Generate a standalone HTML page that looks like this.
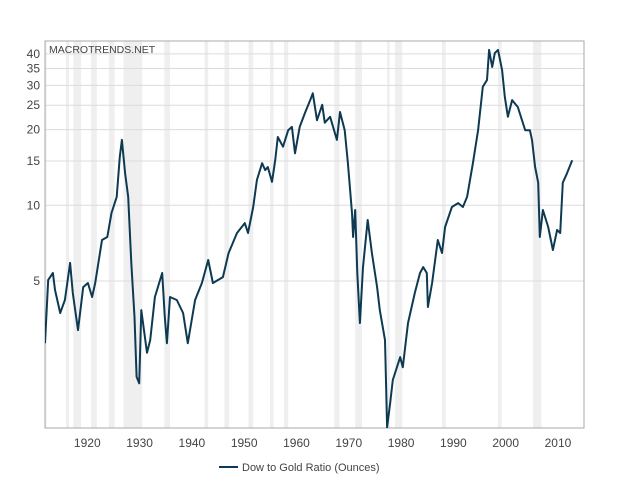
<!DOCTYPE html>
<html><head><meta charset="utf-8"><style>
body{margin:0;background:#fff;font-family:"Liberation Sans",sans-serif;}
svg text{font-family:"Liberation Sans",sans-serif;fill:#444;font-size:12px;}
</style></head><body>
<svg id="chart" width="629" height="492">
<defs><clipPath id="pc"><rect x="45" y="41" width="539" height="387"/></clipPath></defs>
<g id="bands" clip-path="url(#pc)"></g><g id="grid"></g>
<rect x="45" y="41" width="539" height="387" fill="none" stroke="#aaa"/>
<text x="49" y="53" style="font-size:10.5px">MACROTRENDS.NET</text>
<g id="yt"></g><g id="xt"></g>
<path id="line" clip-path="url(#pc)" fill="none" stroke="#0d3a52" stroke-width="2" stroke-linejoin="round"/>
<g>
<line x1="219" y1="467" x2="238" y2="467" stroke="#0d3a52" stroke-width="2"/>
<text x="242" y="471" style="font-size:11px">Dow to Gold Ratio (Ounces)</text></g>
</svg>
<script>
const years=[1914.6,1915.2,1916.1,1916.5,1917.5,1918.4,1919.4,1919.9,1920.9,1921.9,1922.8,1923.6,1924.2,1925.5,1926.5,1927.3,1928.3,1928.9,1929.3,1929.9,1930.5,1931.1,1931.7,1932.1,1932.6,1933.0,1934.1,1934.7,1935.6,1937.0,1937.5,1937.9,1938.5,1939.8,1941.0,1941.9,1943.3,1944.6,1945.8,1946.7,1948.6,1949.7,1951.3,1952.8,1953.4,1954.4,1955.1,1956.1,1956.7,1957.2,1958.0,1958.6,1959.1,1960.1,1961.1,1961.8,1962.4,1963.3,1964.3,1965.3,1965.8,1966.6,1967.6,1968.1,1969.1,1970.4,1971.0,1971.9,1972.5,1973.3,1973.5,1973.9,1974.3,1974.8,1975.4,1976.3,1977.1,1978.1,1978.6,1979.6,1980.0,1980.6,1981.1,1982.5,1983.0,1984.0,1985.3,1986.3,1986.9,1987.6,1987.8,1988.6,1989.7,1990.5,1991.1,1992.4,1993.6,1994.5,1995.3,1996.4,1997.4,1998.3,1999.1,1999.5,2000.1,2000.6,2001.2,2002.0,2002.5,2003.1,2003.9,2005.0,2006.4,2007.3,2007.7,2008.3,2008.9,2009.2,2009.8,2010.8,2011.7,2012.5,2013.1,2013.6,2014.4,2015.4];
const ratio=[2.83,5.05,5.38,4.61,3.73,4.2,5.9,4.48,3.19,4.73,4.91,4.32,4.91,7.28,7.48,9.32,10.8,15.6,18.2,13.4,10.8,5.9,3.6,2.08,1.96,3.83,2.59,2.91,4.32,5.38,3.6,2.83,4.32,4.2,3.73,2.83,4.2,4.91,6.06,4.91,5.18,6.46,7.76,8.5,7.76,9.85,12.6,14.7,13.8,14.2,12.4,15.1,18.7,17.1,19.9,20.5,16.1,20.5,23.3,26.2,27.9,21.8,25.1,21.3,22.5,18.2,23.5,19.9,14.7,9.32,7.48,9.58,5.38,3.4,5.68,8.74,6.46,4.73,3.83,2.91,1.31,1.64,2.02,2.49,2.27,3.4,4.48,5.38,5.68,5.38,3.94,4.91,7.28,6.46,8.2,9.85,10.2,9.85,10.8,14.7,19.9,29.6,31.5,41.5,35.5,40.3,41.5,34.5,27,22.5,26.2,24.6,19.9,19.9,18.2,14.2,12.3,7.48,9.58,8.2,6.64,7.98,7.76,12.3,13.4,15.1];
const yTicks=[5,10,15,20,25,30,35,40];
const xTicks=[1920,1930,1940,1950,1960,1970,1980,1990,2000,2010];
const recessions=[[1913,1914.9],[1918.6,1919.2],[1920,1921.5],[1923.4,1924.5],[1926.8,1927.9],[1929.6,1933.2],[1937.4,1938.5],[1945.1,1945.8],[1948.9,1949.8],[1953.5,1954.4],[1957.6,1958.3],[1960.3,1961.1],[1969.9,1970.9],[1973.9,1975.2],[1980,1980.5],[1981.5,1982.9],[1990.5,1991.2],[2001.2,2001.9],[2007.9,2009.5]];
const X=y=>533+(y-2007.9)*5.23;
const Y=v=>281-Math.log(v/5)*109.2;
const ns="http://www.w3.org/2000/svg";
function mk(t,a,p){const e=document.createElementNS(ns,t);for(const k in a)e.setAttribute(k,a[k]);p.appendChild(e);return e;}
const bands=document.getElementById('bands');
recessions.forEach(r=>{const e=mk('rect',{x:X(r[0]),y:41,width:X(r[1])-X(r[0]),height:387,fill:'#efefef'},bands);

});
const grid=document.getElementById('grid'),yt=document.getElementById('yt'),xt=document.getElementById('xt');
yTicks.forEach(v=>{const g=mk('line',{x1:45,x2:584,y1:Y(v),y2:Y(v),stroke:'#dcdcdc'},grid);


const t=mk('text',{x:40,y:Y(v)+4,'text-anchor':'end'},yt);t.textContent=v;

});
xTicks.forEach(v=>{const t=mk('text',{x:X(v)+14,y:447,'text-anchor':'middle'},xt);t.textContent=v;

});
document.getElementById('line').setAttribute('d',years.map((y,i)=>(i?'L':'M')+X(y).toFixed(1)+','+Y(ratio[i]).toFixed(1)).join(''));
</script>
</body></html>
